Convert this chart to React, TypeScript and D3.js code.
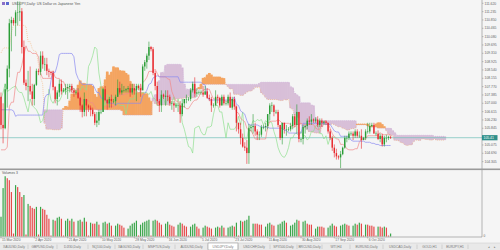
import React from "react";
import * as d3 from "d3";

// USDJPY Daily, 6 bars per week (Sun..Fri), Sun 15 Mar 2020 .. Mon 19 Oct 2020
const opens = [
  107.3,106.0,105.85,107.65,108.6,110.7, 110.85,110.7,111.2,111.2,111.25,109.6,
  107.95,107.8,107.8,107.55,107.2,107.85, 108.5,108.45,109.2,108.8,108.8,108.5,
  108.45,108.4,107.75,107.2,107.5,107.9, 107.55,107.6,107.7,107.75,107.8,107.6,
  107.5,107.5,107.25,106.9,106.6,107.2, 106.9,106.8,106.7,106.5,106.1,106.2,
  106.6,106.6,107.65,107.15,107.0,107.2, 107.1,107.1,107.3,107.7,107.5,107.6,
  107.6,107.65,107.7,107.5,107.7,107.6, 107.8,107.7,107.6,108.7,108.9,109.2,
  109.6,109.5,108.4,107.8,107.1,106.9, 107.4,107.3,107.35,107.3,107.0,107.0,
  106.9,106.9,106.9,106.5,107.0,107.2, 107.2,107.2,107.6,107.9,107.45,107.5,
  107.5,107.5,107.4,107.55,107.25,107.2, 106.9,106.9,107.3,107.25,106.9,107.3,
  107.0,107.0,107.3,106.8,107.2,106.85, 106.1,105.8,105.4,105.0,104.95,104.7,
  105.85,105.9,105.95,105.7,105.55,105.55, 105.9,105.9,105.95,106.5,106.9,106.9,
  106.6,106.6,106.0,105.4,106.1,105.8, 105.8,105.8,105.95,106.4,106.0,106.6,
  105.35,105.35,105.9,105.95,106.2,106.15, 106.25,106.2,106.25,106.0,106.2,106.1,
  106.15,106.1,105.7,105.4,104.95,104.7, 104.55,104.5,104.65,104.95,105.4,105.4,
  105.6,105.6,105.5,105.7,105.5,105.5, 105.3,105.4,105.7,105.7,105.95,106.0,
  105.6,105.6,105.35,105.5,105.1,105.4, 105.4,105.45,
];
const highs = [
  107.5,107.0,107.9,108.75,110.9,111.0, 110.95,111.3,111.71,111.7,111.4,109.9,
  108.1,108.5,108.7,107.9,107.9,108.6, 108.6,109.4,109.4,109.1,109.1,108.6,
  108.5,108.5,107.8,107.6,108.1,108.1, 107.7,107.9,107.9,107.9,107.9,107.7,
  107.6,107.7,107.3,106.95,107.5,107.2, 106.95,106.9,106.8,106.6,106.6,106.7,
  106.7,107.7,107.8,107.2,107.3,107.4, 107.2,107.4,108.1,108.0,107.9,107.8,
  107.7,107.8,107.9,107.9,107.9,107.9, 107.85,107.9,108.8,109.0,109.3,109.85,
  109.65,109.6,108.5,108.0,107.2,107.6, 107.45,107.6,107.6,107.4,107.1,107.1,
  107.0,107.0,107.1,107.2,107.2,107.4, 107.3,107.7,108.0,108.2,107.7,107.6,
  107.6,107.8,107.8,107.7,107.4,107.3, 107.0,107.6,107.4,107.3,107.4,107.4,
  107.1,107.4,107.5,107.3,107.3,106.9, 106.1,106.1,105.6,105.2,105.3,106.05,
  106.0,106.5,106.1,105.8,105.7,106.0, 106.0,106.1,106.5,107.0,107.05,106.95,
  106.7,106.7,106.0,106.1,106.1,106.0, 105.9,106.1,106.5,106.5,106.95,106.6,
  105.4,106.0,106.0,106.3,106.4,106.5, 106.3,106.35,106.4,106.3,106.3,106.2,
  106.2,106.1,105.8,105.5,105.1,104.9, 104.6,104.8,105.0,105.5,105.5,105.7,
  105.7,105.7,105.8,105.8,105.7,105.8, 105.45,105.8,106.1,106.1,106.1,106.1,
  105.7,105.75,105.6,105.6,105.5,105.55, 105.5,105.5,
];
const lows = [
  105.8,105.15,105.8,106.8,108.2,109.4, 110.6,110.1,110.6,110.8,109.3,107.85,
  107.6,107.1,107.4,106.9,106.9,107.8, 108.3,108.3,108.6,108.5,108.3,108.2,
  108.3,107.6,107.0,106.9,107.3,107.4, 107.5,107.4,107.2,107.5,107.5,107.3,
  107.4,107.2,106.6,106.35,106.4,106.4, 106.6,106.4,106.4,105.99,105.9,106.0,
  106.5,106.6,107.1,106.7,106.8,106.8, 107.0,106.9,107.3,107.4,107.4,107.5,
  107.5,107.5,107.3,107.4,107.4,107.1, 107.6,107.3,107.6,108.5,108.6,109.0,
  109.4,108.3,107.6,106.9,106.6,106.6, 107.2,106.9,107.1,106.9,106.7,106.6,
  106.8,106.6,106.1,106.4,106.8,107.0, 107.1,107.1,107.5,107.3,107.3,107.4,
  107.4,107.3,107.4,107.2,107.1,106.6, 106.8,106.9,107.0,106.8,106.9,106.9,
  106.9,106.9,106.8,106.7,106.7,105.7, 105.6,105.1,104.95,104.8,104.2,104.2,
  105.7,105.6,105.5,105.3,105.3,105.45, 105.8,105.7,105.8,106.2,106.6,106.4,
  106.5,105.9,105.3,105.1,105.6,105.5, 105.7,105.7,105.8,105.9,105.6,105.2,
  105.2,105.1,105.6,105.8,106.0,106.0, 106.1,106.1,105.9,105.9,105.9,106.0,
  106.0,105.6,105.3,104.8,104.5,104.4, 104.4,104.0,104.6,104.9,105.2,105.3,
  105.5,105.3,105.4,105.4,105.4,104.9, 105.3,105.3,105.6,105.6,105.9,105.6,
  105.5,105.3,105.2,105.0,105.0,105.2, 105.3,105.35,
];
const closes = [
  106.0,105.85,107.65,108.6,110.7,110.85, 110.7,111.2,111.2,111.25,109.6,107.95,
  107.8,107.8,107.55,107.2,107.85,108.5, 108.45,109.2,108.8,108.8,108.5,108.45,
  108.4,107.75,107.2,107.5,107.9,107.55, 107.6,107.7,107.75,107.8,107.6,107.5,
  107.5,107.25,106.9,106.6,107.2,106.9, 106.8,106.7,106.5,106.1,106.2,106.6,
  106.6,107.65,107.15,107.0,107.2,107.1, 107.1,107.3,107.7,107.5,107.6,107.6,
  107.65,107.7,107.5,107.7,107.6,107.8, 107.7,107.6,108.7,108.9,109.2,109.6,
  109.5,108.4,107.8,107.1,106.9,107.4, 107.3,107.35,107.3,107.0,107.0,106.9,
  106.9,106.9,106.5,107.0,107.2,107.2, 107.2,107.6,107.9,107.45,107.5,107.5,
  107.5,107.4,107.55,107.25,107.2,106.9, 106.9,107.3,107.25,106.9,107.3,107.0,
  107.0,107.3,106.8,107.2,106.85,106.1, 105.8,105.4,105.0,104.95,104.7,105.85,
  105.9,105.95,105.7,105.55,105.55,105.9, 105.9,105.95,106.5,106.9,106.9,106.6,
  106.6,106.0,105.4,106.1,105.8,105.8, 105.8,105.95,106.4,106.0,106.6,105.35,
  105.35,105.9,105.95,106.2,106.15,106.25, 106.2,106.25,106.0,106.2,106.1,106.15,
  106.1,105.7,105.4,104.95,104.7,104.55, 104.5,104.65,104.95,105.4,105.4,105.6,
  105.6,105.5,105.7,105.5,105.5,105.3, 105.4,105.7,105.7,105.95,106.0,105.6,
  105.6,105.35,105.5,105.1,105.4,105.4, 105.45,105.41,
];
const volumes = [
  20,49,61,59,57,45, 3,52,50,45,40,42,
  2,33,31,29,28,30, 2,30,28,27,22,18,
  1,17,16,19,20,18, 1,16,18,16,18,15,
  1,16,17,15,19,15, 1,14,13,13,15,12,
  1,14,15,13,14,11, 1,11,13,12,11,9,
  1,8,11,13,14,16, 1,12,14,15,16,17,
  1,16,17,16,14,12, 1,13,15,12,11,10,
  1,12,14,13,11,10, 1,10,12,13,10,8,
  1,9,11,10,9,8, 1,9,10,9,11,9,
  1,9,10,11,10,14, 1,16,15,16,17,21,
  1,13,13,13,12,12, 1,10,13,14,12,11,
  1,12,13,15,16,14, 1,11,12,14,17,16,
  1,15,16,13,12,12, 1,8,10,10,10,9,
  1,9,11,13,11,10, 1,11,12,13,12,11,
  1,11,13,12,14,13, 1,12,12,11,11,10,
  1,10,10,9,10,9, 1,3,
];
// earlier history (Thu 9 Jan .. Fri 13 Mar 2020), only used to warm up Ichimoku
const preHighs = [
  109.6,109.7, 109.5,110.0,110.2,110.0,110.2,110.3, 110.2,110.2,110.2,110.0,109.9,109.5,
  109.1,109.1,109.2,109.3,109.2,109.1, 108.5,108.8,109.6,109.9,110.0,109.9,
  109.8,109.8,110.0,110.1,110.0,109.9, 109.8,110.0,110.0,111.6,112.2,112.1,
  111.6,111.6,110.9,110.6,110.4,109.7, 108.2,108.6,108.6,107.8,107.6,106.3,
  105.2,105.5,105.9,105.8,105.2,108.5,
];
const preLows = [
  109.0,109.4, 109.4,109.4,109.9,109.8,109.9,110.0, 110.1,110.0,109.8,109.8,109.3,109.1,
  108.8,108.7,108.8,109.0,108.6,108.3, 108.3,108.4,108.6,109.4,109.7,109.6,
  109.6,109.6,109.7,109.8,109.7,109.7, 109.7,109.8,109.7,109.9,111.1,111.4,
  111.4,110.6,110.0,110.1,109.5,107.5, 107.9,106.9,107.0,107.0,106.0,105.0,
  104.5,101.2,102.8,103.9,103.1,104.4,
];

const priceTicks = [
  "111.620","111.235","110.850","110.465","110.080","109.695","109.310","108.925",
  "108.540","108.155","107.770","107.385","107.000","106.615","106.230","105.845",
  "105.460","105.075","104.690","104.305",
];
const dateLabels = [
  "15 Mar 2020","2 Apr 2020","21 Apr 2020","10 May 2020","28 May 2020","16 Jun 2020",
  "5 Jul 2020","23 Jul 2020","11 Aug 2020","30 Aug 2020","17 Sep 2020","6 Oct 2020",
];
const tabNames = [
  "XAUUSD,Daily","GBPUSD,Daily","DJI30,Daily","NQ100,Daily","XAGUSD,Daily","MSFTUS,Daily",
  "AUDUSD,Daily","USDJPY,Daily","USDCHF,Daily","SPX500,Daily","BRCUSD,Daily","WTI,H4",
  "EURUSD,Daily","USDCAD,Daily","GOLD,H1","EURJPY,H1",
];
const activeTab = "USDJPY,Daily";
const lastPrice = 105.41;
const volumeTitle = "Volumes 3";
const headerText = "USDJPY,Daily: US Dollar vs Japanese Yen";

// layout
const tabEdges = [0, 28, 57, 88, 115, 143, 175, 208, 238, 270, 297, 322, 350, 383, 417, 442, 468];
const AXIS_X = 482;
const MAIN_BOTTOM = 168.5;
const VOL_TOP = 170.5;
const VOL_BOTTOM = 236.5;
const FONT = "'Liberation Sans', Arial, sans-serif";

export default function App() {
  const n = closes.length;
  const N0 = preHighs.length;
  const allH = [...preHighs, ...highs];
  const allL = [...preLows, ...lows];
  const mid = (j: number, len: number): number | null => {
    if (j - len + 1 < 0 || j >= allH.length) return null;
    let hi = -Infinity, lo = Infinity;
    for (let k = j - len + 1; k <= j; k++) { hi = Math.max(hi, allH[k]); lo = Math.min(lo, allL[k]); }
    return (hi + lo) / 2;
  };
  const idx = d3.range(n);
  const future = d3.range(n + 26);
  const tenkan = idx.map((i) => mid(i + N0, 9));
  const kijun = idx.map((i) => mid(i + N0, 26));
  const spanA = future.map((i) => {
    const s = i + N0 - 26; const t = mid(s, 9), k = mid(s, 26);
    return t == null || k == null ? null : (t + k) / 2;
  });
  const spanB = future.map((i) => mid(i + N0 - 26, 52));
  const chikou = idx.map((i) => (i + 26 < n ? closes[i + 26] : null));

  const step = 12.5 / 6;
  const x = d3.scaleLinear().domain([0, n - 1]).range([1, 1 + (n - 1) * step]);
  const y = d3.scaleLinear().domain([111.62, 107.77]).range([3.3, 86.63]);
  const yv = d3.scaleLinear().domain([0, 66.8]).range([VOL_BOTTOM, VOL_TOP]);

  const mkLine = (arr: (number | null)[]) =>
    d3.line<number>().defined((i) => arr[i] != null).x((i) => x(i)).y((i) => y(arr[i] as number))(d3.range(arr.length)) || "";

  const bull = "#2a9d36";
  const bear = "#e8292e";
  const yLast = y(lastPrice);

  return (
    <svg width={500} height={250} style={{ position: "fixed", left: 0, top: 0, display: "block" }} fontFamily={FONT}>
      <rect x={0} y={0} width={500} height={250} fill="#f5f5f5" />
      <defs>
        <clipPath id="mainClip"><rect x={0} y={0} width={AXIS_X} height={MAIN_BOTTOM} /></clipPath>
      </defs>
      <g clipPath="url(#mainClip)">
        {/* cloud */}
        {future.map((i) => {
          const a = spanA[i], b = spanB[i];
          if (a == null || b == null) return null;
          const y1 = y(Math.max(a, b)), y2 = y(Math.min(a, b));
          return (
            <rect key={"c" + i} x={x(i) - step / 2 - 0.3} width={step + 0.6} y={y1} height={Math.max(0.4, y2 - y1)}
              fill={a >= b ? "#f4a460" : "#d8bfd8"} />
          );
        })}
        <path d={mkLine(spanA)} fill="none" stroke="#f4a460" strokeWidth={0.5} strokeDasharray="1,1" />
        <path d={mkLine(spanB)} fill="none" stroke="#c8a8d8" strokeWidth={0.5} strokeDasharray="1,1" />
        {/* bid line */}
        <line x1={0} x2={AXIS_X} y1={yLast} y2={yLast} stroke="#6dbdb6" strokeWidth={0.7} />
        <path d={mkLine(chikou)} fill="none" stroke="#8fe08f" strokeWidth={0.7} />
        <path d={mkLine(tenkan)} fill="none" stroke="#f08a8a" strokeWidth={0.7} />
        <path d={mkLine(kijun)} fill="none" stroke="#8a8af0" strokeWidth={0.7} />
        {/* candles */}
        {idx.map((i) => {
          const up = closes[i] >= opens[i];
          const c = up ? bull : bear;
          const top = y(Math.max(opens[i], closes[i]));
          const bot = y(Math.min(opens[i], closes[i]));
          return (
            <g key={"k" + i}>
              <line x1={x(i)} x2={x(i)} y1={y(highs[i])} y2={y(lows[i])} stroke={c} strokeWidth={0.6} />
              <rect x={x(i) - 0.7} width={1.4} y={top} height={Math.max(0.5, bot - top)} fill={c} />
            </g>
          );
        })}
      </g>
      {/* header */}
      <rect x={2} y={2} width={3} height={3} fill="#8a6fc8" />
      <rect x={6} y={2} width={3} height={3} fill="#5a6ad0" />
      <text x={12} y={5.2} fontSize={3.6} fill="#555">{headerText}</text>

      {/* price axis */}
      <line x1={AXIS_X} x2={AXIS_X} y1={0} y2={VOL_BOTTOM + 0.5} stroke="#888" strokeWidth={0.6} />
      {priceTicks.map((t) => {
        const yy = y(+t);
        if (Math.abs(yy - yLast) < 4.5) return null;
        return (
          <g key={t}>
            <line x1={AXIS_X} x2={AXIS_X + 1.5} y1={yy} y2={yy} stroke="#888" strokeWidth={0.5} />
            <text x={AXIS_X + 2.5} y={yy + 1.2} fontSize={3.4} fill="#666">{t}</text>
          </g>
        );
      })}
      <rect x={AXIS_X} y={yLast - 2.6} width={15.5} height={5.2} fill="#2f8f8a" />
      <text x={AXIS_X + 1.5} y={yLast + 1.2} fontSize={3.4} fill="#fff">{lastPrice.toFixed(2)}</text>

      {/* panel separator */}
      <rect x={0} y={MAIN_BOTTOM} width={500} height={1.6} fill="#9a9a9a" />

      {/* volumes */}
      <text x={2} y={174} fontSize={3.4} fill="#555">{volumeTitle}</text>
      {idx.map((i) => {
        const up = i === 0 || volumes[i] > volumes[i - 1];
        return (
          <rect key={"v" + i} x={x(i) - 0.6} width={1.2} y={yv(volumes[i])} height={VOL_BOTTOM - yv(volumes[i])}
            fill={up ? "#3aa54a" : "#e64a4a"} />
        );
      })}
      <text x={AXIS_X + 1.5} y={VOL_BOTTOM} fontSize={3.2} fill="#666">0</text>

      {/* time axis */}
      <line x1={0} x2={AXIS_X} y1={VOL_BOTTOM + 0.5} y2={VOL_BOTTOM + 0.5} stroke="#888" strokeWidth={0.6} />
      {dateLabels.map((d, k) => {
        const xx = x(k * 16);
        return (
          <g key={d}>
            <line x1={xx} x2={xx} y1={VOL_BOTTOM + 0.5} y2={VOL_BOTTOM + 2} stroke="#888" strokeWidth={0.5} />
            <text x={xx + 1} y={241.3} fontSize={3.3} fill="#666">{d}</text>
          </g>
        );
      })}

      {/* tabs */}
      <rect x={0} y={243} width={500} height={7} fill="#e9e9e9" />
      <line x1={0} x2={500} y1={243} y2={243} stroke="#c8c8c8" strokeWidth={0.5} />
      {tabNames.map((t, k) => {
        const x0 = tabEdges[k], x1 = tabEdges[k + 1];
        const active = t === activeTab;
        return (
          <g key={t}>
            {active && <rect x={x0} y={243} width={x1 - x0} height={7} fill="#fff" stroke="#888" strokeWidth={0.5} />}
            <line x1={x1} x2={x1} y1={244.5} y2={249} stroke="#aaa" strokeWidth={0.4} />
            <text x={(x0 + x1) / 2} y={247.8} fontSize={3.3} fill="#777" textAnchor="middle">{t}</text>
          </g>
        );
      })}
      <text x={488} y={247.8} fontSize={3.3} fill="#777">◂</text>
      <text x={494} y={247.8} fontSize={3.3} fill="#777">▸</text>
    </svg>
  );
}
